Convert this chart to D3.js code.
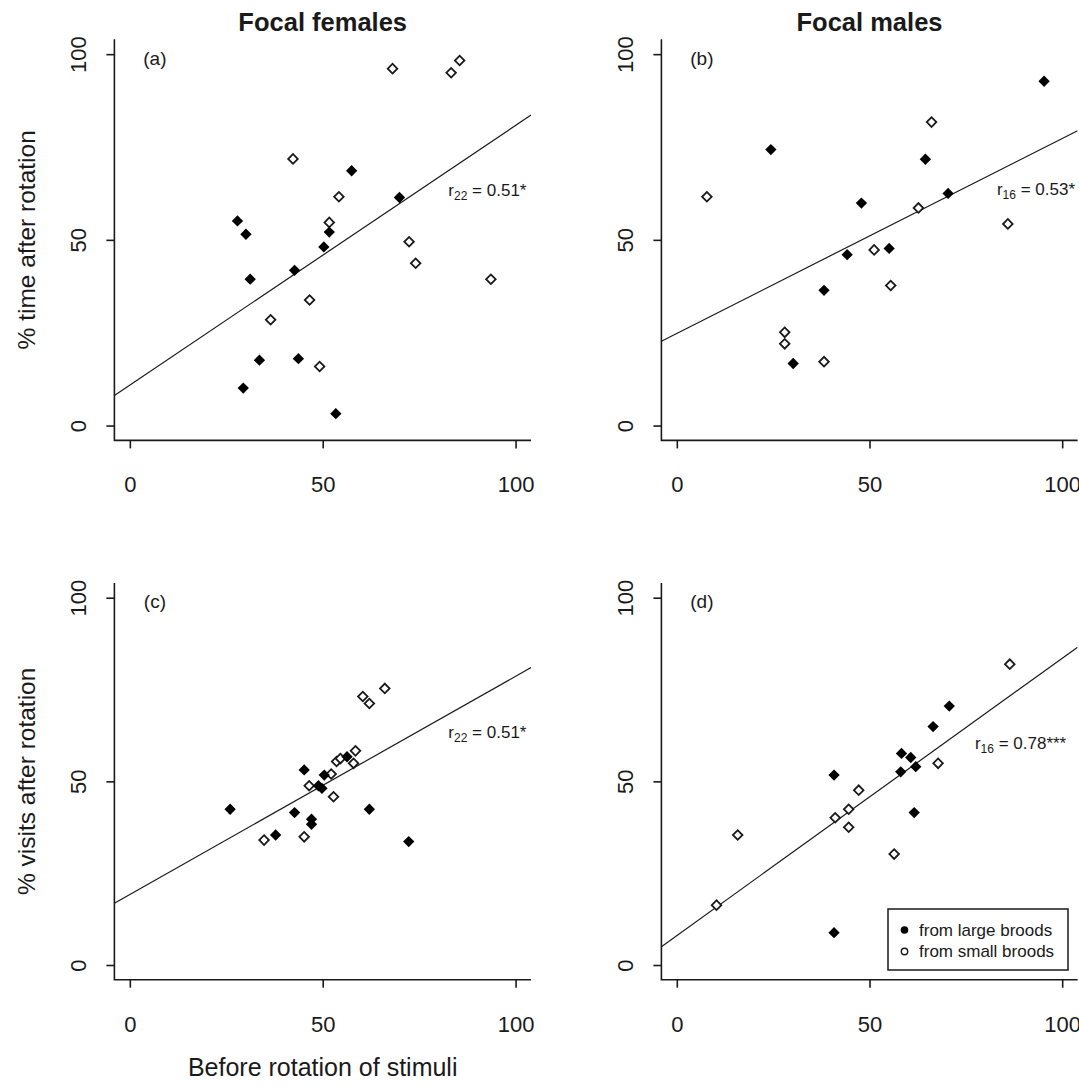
<!DOCTYPE html>
<html>
<head>
<meta charset="utf-8">
<script src="https://cdn.jsdelivr.net/npm/d3@7"></script>
<style>
	body { margin: 0; background: #fff; }
	svg { display: block; }
</style>
</head>
<body>
<div class="chart"></div>
<script>
// Values: [before rotation, after rotation] in %
var aLarge = [[27.9, 55.1], [30.1, 51.5], [31.2, 39.4], [33.6, 17.6], [29.4, 10.1], [42.7, 41.8],
	[43.7, 18.0], [50.3, 48.1], [51.7, 52.1], [57.5, 68.6], [69.9, 61.4], [53.4, 3.2]];
var aSmall = [[68.1, 96.1], [83.3, 95.0], [85.5, 98.3], [42.3, 71.8], [54.2, 61.6], [51.7, 54.7],
	[72.4, 49.5], [74.1, 43.7], [93.6, 39.4], [46.6, 33.8], [36.5, 28.5], [49.2, 15.9]];
var bLarge = [[95.3, 92.7], [24.4, 74.3], [64.5, 71.7], [70.4, 62.5], [47.9, 59.9], [44.2, 46.0],
	[55.1, 47.7], [38.2, 36.4], [30.2, 16.7]];
var bSmall = [[66.1, 81.7], [7.8, 61.6], [62.7, 58.6], [85.9, 54.3], [51.2, 47.3], [55.5, 37.7],
	[28.0, 25.1], [28.0, 22.0], [38.2, 17.2]];
var cLarge = [[26.0, 42.4], [37.8, 35.4], [45.2, 53.1], [42.7, 41.5], [47.1, 39.7], [47.1, 38.3],
	[48.9, 48.8], [49.8, 48.1], [50.4, 51.7], [56.3, 56.7], [62.1, 42.4], [72.3, 33.6]];
var cSmall = [[66.1, 75.3], [60.4, 73.1], [62.1, 71.2], [58.5, 58.3], [53.6, 55.4], [54.6, 56.2],
	[58.0, 54.9], [52.2, 52.0], [46.5, 48.8], [52.8, 45.8], [34.8, 34.0], [45.2, 34.9]];
var dLarge = [[70.7, 70.5], [66.5, 64.9], [58.3, 57.6], [60.7, 56.5], [58.1, 52.6], [62.0, 54.0],
	[40.8, 51.7], [61.6, 41.5], [40.8, 8.8]];
var dSmall = [[86.4, 81.9], [67.8, 54.9], [47.2, 47.6], [44.6, 42.4], [41.1, 40.1], [44.6, 37.5],
	[15.8, 35.4], [56.4, 30.2], [10.3, 16.3]];

// regression lines: [intercept, slope]
var fitA = [10.9, 0.699],
	fitB = [24.8, 0.525],
	fitC = [19.2, 0.594],
	fitD = [8.0, 0.755];

var panelLetters = ['(a)', '(b)', '(c)', '(d)'];
var stats = [['22', '0.51*'], ['16', '0.53*'], ['22', '0.51*'], ['16', '0.78***']];
var xTicks = [0, 50, 100],
	yTicks = [0, 50, 100];
var columnTitles = ['Focal females', 'Focal males'];
var rowLabels = ['% time after rotation', '% visits after rotation'];
var xLabel = 'Before rotation of stimuli';
var legendLabels = ['from large broods', 'from small broods'];

var ink = '#1a1a1a',
	font = '"Liberation Sans", Arial, sans-serif';

// plot regions in pixels, one per panel
var panels = [
	{large: aLarge, small: aSmall, fit: fitA, left: 114.4, right: 531.0, top: 39.3, bottom: 440.4, stat: [92.7, 63.3]},
	{large: bLarge, small: bSmall, fit: fitB, left: 661.4, right: 1077.6, top: 39.3, bottom: 440.4, stat: [93.2, 63.8]},
	{large: cLarge, small: cSmall, fit: fitC, left: 114.4, right: 531.0, top: 583.0, bottom: 979.7, stat: [92.7, 63.5]},
	{large: dLarge, small: dSmall, fit: fitD, left: 661.4, right: 1077.6, top: 583.0, bottom: 979.7, stat: [89.2, 60.4]}
];

var svg = d3.select('.chart').append('svg')
	.attr('width', 1079)
	.attr('height', 1092)
	.attr('font-family', font)
	.attr('fill', ink);

var diamond = d3.symbol().type(d3.symbolSquare);

panels.forEach(function(p, i) {
	var x = d3.scaleLinear().domain([-4, 104]).range([p.left, p.right]);
	var y = d3.scaleLinear().domain([-4, 104]).range([p.bottom, p.top]);
	var g = svg.append('g');

	g.append('clipPath').attr('id', 'clip' + i)
		.append('rect')
		.attr('x', p.left).attr('y', p.top)
		.attr('width', p.right - p.left).attr('height', p.bottom - p.top);

	// L-shaped box
	g.append('path')
		.attr('d', 'M' + p.left + ',' + p.top + 'V' + p.bottom + 'H' + p.right)
		.attr('fill', 'none')
		.attr('stroke', ink)
		.attr('stroke-width', 1.6);

	var xAxis = g.append('g')
		.attr('transform', 'translate(0,' + p.bottom + ')')
		.call(d3.axisBottom(x).tickValues(xTicks).tickSize(8).tickFormat(d3.format('d')));
	xAxis.select('.domain').remove();
	xAxis.selectAll('line').attr('stroke', ink).attr('stroke-width', 1.6);
	xAxis.selectAll('text')
		.attr('y', 52)
		.attr('dy', 0)
		.attr('fill', ink)
		.attr('font-family', font)
		.attr('font-size', '22px');

	var yAxis = g.append('g')
		.attr('transform', 'translate(' + p.left + ',0)')
		.call(d3.axisLeft(y).tickValues(yTicks).tickSize(8).tickFormat(d3.format('d')));
	yAxis.select('.domain').remove();
	yAxis.selectAll('line').attr('stroke', ink).attr('stroke-width', 1.6);
	yAxis.selectAll('text')
		.attr('transform', 'rotate(-90)')
		.attr('x', 0)
		.attr('y', -28)
		.attr('dy', 0)
		.attr('text-anchor', 'middle')
		.attr('fill', ink)
		.attr('font-family', font)
		.attr('font-size', '22px');

	// regression line, clipped to the plot region
	g.append('line')
		.attr('clip-path', 'url(#clip' + i + ')')
		.attr('x1', x(-4)).attr('y1', y(p.fit[0] + p.fit[1] * -4))
		.attr('x2', x(104)).attr('y2', y(p.fit[0] + p.fit[1] * 104))
		.attr('stroke', ink)
		.attr('stroke-width', 1.2);

	g.selectAll('.small').data(p.small).enter().append('path')
		.attr('d', diamond.size(46))
		.attr('transform', function(d) { return 'translate(' + x(d[0]) + ',' + y(d[1]) + ') rotate(45)'; })
		.attr('fill', '#fff')
		.attr('stroke', ink)
		.attr('stroke-width', 1.8);
	g.selectAll('.large').data(p.large).enter().append('path')
		.attr('d', diamond.size(64))
		.attr('transform', function(d) { return 'translate(' + x(d[0]) + ',' + y(d[1]) + ') rotate(45)'; })
		.attr('fill', '#000');

	g.append('text')
		.attr('x', x(6.5))
		.attr('y', y(99))
		.attr('dy', '0.35em')
		.attr('text-anchor', 'middle')
		.attr('font-size', '19px')
		.text(panelLetters[i]);

	var st = g.append('text')
		.attr('x', x(p.stat[0]))
		.attr('y', y(p.stat[1]))
		.attr('dy', '0.35em')
		.attr('text-anchor', 'middle')
		.attr('font-size', '17px');
	st.append('tspan').text('r');
	st.append('tspan').attr('font-size', '12px').attr('dy', 4).text(stats[i][0]);
	st.append('tspan').attr('dy', -4).text(' = ' + stats[i][1]);

	if (i < 2) {
		g.append('text')
			.attr('x', (p.left + p.right) / 2)
			.attr('y', 31)
			.attr('text-anchor', 'middle')
			.attr('font-weight', 'bold')
			.attr('font-size', '25.5px')
			.text(columnTitles[i]);
	}
	if (i % 2 === 0) {
		g.append('text')
			.attr('transform', 'translate(35,' + (p.top + p.bottom) / 2 + ') rotate(-90)')
			.attr('text-anchor', 'middle')
			.attr('font-size', '24.5px')
			.text(rowLabels[i / 2]);
	}
	if (i === 2) {
		g.append('text')
			.attr('x', (p.left + p.right) / 2)
			.attr('y', 1076)
			.attr('text-anchor', 'middle')
			.attr('font-size', '25px')
			.text(xLabel);
	}
	if (i === 3) {
		var lg = g.append('g');
		lg.append('rect')
			.attr('x', 888).attr('y', 909)
			.attr('width', 180).attr('height', 61)
			.attr('fill', '#fff')
			.attr('stroke', ink)
			.attr('stroke-width', 1.5);
		legendLabels.forEach(function(t, k) {
			var cy = 930 + k * 21.5;
			lg.append('circle')
				.attr('cx', 904.5).attr('cy', cy)
				.attr('r', k === 0 ? 3.8 : 3.2)
				.attr('fill', k === 0 ? '#000' : '#fff')
				.attr('stroke', ink)
				.attr('stroke-width', k === 0 ? 0 : 1.4);
			lg.append('text')
				.attr('x', 919).attr('y', cy)
				.attr('dy', '0.35em')
				.attr('font-size', '17px')
				.text(t);
		});
	}
});
</script>
</body>
</html>
